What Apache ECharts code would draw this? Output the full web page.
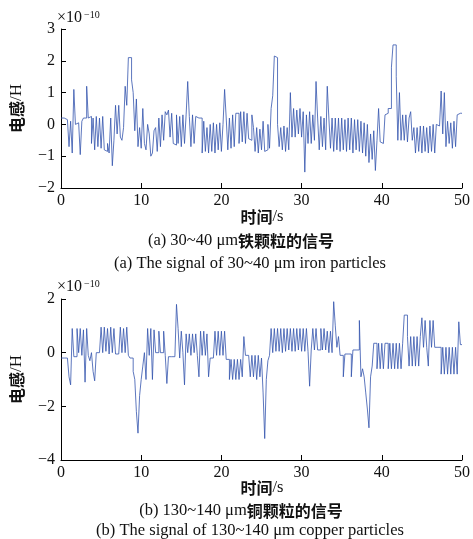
<!DOCTYPE html>
<html>
<head>
<meta charset="utf-8">
<script src="https://cdn.jsdelivr.net/npm/echarts@6/dist/echarts.min.js"></script>
<style>
html,body{margin:0;padding:0;background:#fff;}
#c{width:473px;height:539px;}
</style>
</head>
<body>
<div id="c"></div>
<script>
// sample spacing (s)
const dt = 0.2;
const xTicks = [0, 10, 20, 30, 40, 50];
const yTicksA = [-2, -1, 0, 1, 2, 3];
const yTicksB = [-4, -2, 0, 2];

// (a) iron particles, inductance ×1e-10 H, one value per 0.2 s
const ironSignal = [
  0.2,0.2,0.18,0.15,0.1,
  -0.7,0.1,-0.9,1.1,0.0,
  0.05,0.0,-0.95,0.1,0.2,
  0.2,1.2,0.2,0.25,-0.6,
  0.2,-0.8,0.25,-0.7,0.2,
  -0.75,0.25,-0.8,-0.85,-0.6,
  -0.9,0.2,-1.3,-0.5,0.6,
  -0.3,0.6,-0.4,-0.5,-0.1,
  1.2,0.6,2.1,2.1,1.4,
  1.0,-0.2,0.8,-0.7,-0.1,
  -0.75,0.5,-0.6,-0.8,0.0,
  -0.3,-1.0,-0.9,-0.2,-0.1,
  -0.85,0.2,-0.7,0.3,-0.5,
  0.4,0.3,0.45,-0.4,0.35,
  -0.6,-0.65,0.3,-0.6,0.25,
  -0.7,0.3,-0.6,0.3,1.35,
  0.25,-0.7,0.3,-0.6,0.25,
  0.2,0.2,0.2,-0.9,0.1,
  -0.85,-0.1,-0.9,0.0,-0.85,
  0.05,-0.9,0.0,-0.8,0.05,
  -0.85,0.0,1.1,0.2,-0.8,
  0.2,-0.75,0.3,-0.7,0.35,
  0.35,-0.6,0.4,-0.55,0.4,
  -0.6,0.35,-0.45,-0.5,0.3,
  -0.1,-0.85,-0.1,-0.9,-0.15,
  -0.8,0.1,-0.85,-0.8,0.0,
  -0.75,0.5,0.9,2.15,2.1,
  0.0,-0.7,-0.1,-0.8,-0.05,
  -0.85,-0.1,-0.8,1.0,-0.4,
  0.5,-0.4,0.45,-0.3,0.5,
  -0.4,0.4,-1.5,0.3,-0.6,
  0.4,-0.6,0.3,-0.5,1.35,
  0.2,-0.8,0.25,-0.7,0.2,
  -0.8,1.2,0.2,-0.75,0.2,
  -0.85,0.2,-0.8,0.2,-0.85,
  0.2,-0.8,0.15,-0.85,0.2,
  -0.8,0.2,-0.9,0.15,-0.8,
  0.15,-0.85,0.1,-0.9,0.05,
  -1.0,0.0,-1.2,-0.3,-1.1,
  -0.2,-1.45,-0.5,0.5,-0.55,
  -0.6,-0.55,0.3,0.35,0.5,
  0.5,1.8,2.5,2.5,1.5,
  -0.5,1.0,-0.5,0.3,-0.5,
  0.3,-0.55,0.2,0.4,-0.5,
  -0.1,-0.9,-0.1,-0.85,-0.05,
  -0.9,-0.05,-0.85,-0.1,-0.9,
  -0.05,-0.85,0.0,-0.9,0.0,
  -0.05,0.0,1.05,-0.3,1.0,
  -0.7,0.1,-0.6,0.05,-0.75,
  0.1,-0.7,0.3,0.35,0.35,
  0.35
];

// (b) copper particles, inductance ×1e-10 H, one value per 0.2 s
const copperSignal = [
  -0.2,-0.2,-0.2,-0.2,-0.2,
  -0.9,-1.2,0.9,-0.15,-0.15,
  0.9,0.0,0.9,-0.1,0.85,
  -1.1,0.9,-0.1,-0.3,0.0,
  -0.7,-1.05,0.0,0.0,0.0,
  0.95,0.0,0.95,0.05,0.9,
  -0.05,0.95,0.0,0.9,-0.05,
  -0.05,-0.05,0.95,0.0,0.9,
  0.0,0.95,-0.1,-0.2,-0.2,
  -0.7,-1.0,-2.2,-3.0,-1.6,
  -1.0,-0.5,0.0,-1.0,0.9,
  -0.1,0.9,-1.0,0.85,0.0,
  0.0,0.8,0.0,0.0,0.8,
  -0.1,-1.15,-0.15,-0.15,-0.15,
  -0.15,-0.15,1.8,0.9,-0.2,
  0.8,0.0,-1.2,0.7,0.0,
  0.7,-0.1,0.7,0.0,0.7,
  -0.1,-0.9,0.8,-0.1,0.8,
  -0.1,0.7,-0.9,-0.2,-0.2,
  -0.2,0.8,-0.1,0.8,-0.1,
  0.8,-0.1,0.8,-0.25,-0.25,
  -1.0,-0.25,-1.0,-0.25,-1.0,
  -0.25,-1.0,-0.25,-0.9,0.6,
  -0.1,-0.1,-0.1,-0.9,-0.1,
  -0.9,-0.1,-1.0,-0.1,-0.9,
  -0.2,-1.5,-3.2,-1.0,-0.3,
  -0.1,0.9,0.0,0.9,0.05,
  0.9,0.05,0.9,0.0,0.9,
  0.05,0.9,0.1,0.9,0.05,
  0.9,0.05,0.9,0.1,0.9,
  0.05,0.9,0.05,0.9,0.05,
  -1.25,0.1,0.9,0.1,0.9,
  0.1,0.1,0.9,0.1,0.9,
  0.1,0.8,0.0,0.8,0.0,
  1.9,1.0,0.2,0.6,-0.1,
  -0.1,-0.9,-0.05,-0.05,-0.05,
  -0.05,-0.9,0.1,0.1,0.1,
  0.1,1.2,-0.9,-0.6,-0.9,
  -1.5,-2.1,-2.8,-0.9,-0.5,
  0.35,0.35,-0.6,0.35,-0.6,
  0.35,-0.6,0.35,0.35,-0.6,
  0.35,-0.6,0.35,-0.6,0.35,
  -0.6,0.35,-0.6,0.35,1.4,
  1.4,0.6,-0.5,0.6,-0.5,
  0.6,-0.5,0.6,-0.5,0.6,
  1.3,0.2,1.2,0.2,-0.5,
  1.2,0.2,1.2,0.2,0.2,
  0.2,0.2,-0.8,0.2,-0.8,
  0.2,-0.8,0.2,-0.8,0.2,
  -0.8,0.2,-0.8,1.15,0.3,
  0.3
];

const texts = {
  yName: ['电感', '/H'],
  xName: ['时间', '/s'],
  expBase: '×10',
  expPow: '−10',
  capAcn: ['(a) 30~40 μm', '铁颗粒的信号'],
  capAen: '(a) The signal of 30~40 μm iron particles',
  capBcn: ['(b) 130~140 μm', '铜颗粒的信号'],
  capBen: '(b) The signal of 130~140 μm copper particles'
};

const serif = '"Liberation Serif", "DejaVu Serif", serif';
const cjk = '"Noto Sans CJK SC", sans-serif';
const lineColor = '#3354ad';

function pairs(arr) { return arr.map((v, i) => [+(i * dt).toFixed(2), v]); }
const fmt = v => String(v).replace('-', '−');

function xAxisDef(gi) {
  return {
    gridIndex: gi, type: 'value', min: xTicks[0], max: xTicks[xTicks.length - 1], interval: 10,
    axisLine: { onZero: false, lineStyle: { color: '#000', width: 1 } },
    axisTick: { inside: true, length: 5, lineStyle: { color: '#000' } },
    axisLabel: { color: '#111', fontFamily: serif, fontSize: 16, margin: 5, formatter: fmt },
    splitLine: { show: false }
  };
}
function yAxisDef(gi, ticks, interval) {
  return {
    gridIndex: gi, type: 'value', min: ticks[0], max: ticks[ticks.length - 1], interval: interval,
    name: '{a|' + texts.yName[0] + '}{b|' + texts.yName[1] + '}',
    nameLocation: 'middle', nameGap: 36, nameRotate: 90,
    nameTextStyle: {
      color: '#111',
      rich: {
        a: { fontFamily: cjk, fontSize: 16, fontWeight: 'bold', color: '#111' },
        b: { fontFamily: serif, fontSize: 17, color: '#111' }
      }
    },
    axisLine: { show: true, onZero: false, lineStyle: { color: '#000', width: 1 } },
    axisTick: { show: true, inside: true, length: 5, lineStyle: { color: '#000' } },
    axisLabel: { color: '#111', fontFamily: serif, fontSize: 16, margin: 6, formatter: fmt },
    splitLine: { show: false }
  };
}

function mixed(parts, x, y, cjkFirst) {
  const rich = {
    a: { fontFamily: serif, fontSize: 16.5, fill: '#111' },
    b: { fontFamily: cjk, fontSize: 16, fontWeight: 'bold', fill: '#111' }
  };
  const text = cjkFirst ? '{b|' + parts[0] + '}{a|' + parts[1] + '}'
                        : '{a|' + parts[0] + '}{b|' + parts[1] + '}';
  return {
    type: 'text', x: x, y: y,
    style: { text: text, textAlign: 'center', textVerticalAlign: 'middle', rich: rich }
  };
}
function plain(text, x, y, size, family, weight, align) {
  return {
    type: 'text', x: x, y: y,
    style: { text: text, font: (weight || 'normal') + ' ' + size + 'px ' + family,
      fill: '#111', textAlign: align || 'center', textVerticalAlign: 'middle' }
  };
}

const chart = echarts.init(document.getElementById('c'), null, { renderer: 'canvas' });
chart.setOption({
  animation: false,
  backgroundColor: '#fff',
  grid: [
    { left: 58, top: 29, width: 408, height: 159 },
    { left: 58, top: 299, width: 408, height: 161 }
  ],
  xAxis: [xAxisDef(0), xAxisDef(1)],
  yAxis: [yAxisDef(0, yTicksA, 1), yAxisDef(1, yTicksB, 2)],
  series: [
    { type: 'line', xAxisIndex: 0, yAxisIndex: 0, data: pairs(ironSignal), step: 'end',
      showSymbol: false, lineStyle: { color: lineColor, width: 0.8 } },
    { type: 'line', xAxisIndex: 1, yAxisIndex: 1, data: pairs(copperSignal), step: 'end',
      showSymbol: false, lineStyle: { color: lineColor, width: 0.8 } }
  ],
  graphic: [
    plain(texts.expBase, 57, 18, 16, serif, 'normal', 'left'),
    plain(texts.expPow, 84, 15, 10, serif, 'normal', 'left'),
    plain(texts.expBase, 57, 287, 16, serif, 'normal', 'left'),
    plain(texts.expPow, 84, 284, 10, serif, 'normal', 'left'),
    mixed(texts.xName, 262, 217, true),
    mixed(texts.capAcn, 241, 241, false),
    plain(texts.capAen, 250, 264, 16.5, serif, 'normal'),
    mixed(texts.xName, 262, 488, true),
    mixed(texts.capBcn, 241, 511, false),
    plain(texts.capBen, 250, 531, 16.5, serif, 'normal')
  ]
});
</script>
</body>
</html>
